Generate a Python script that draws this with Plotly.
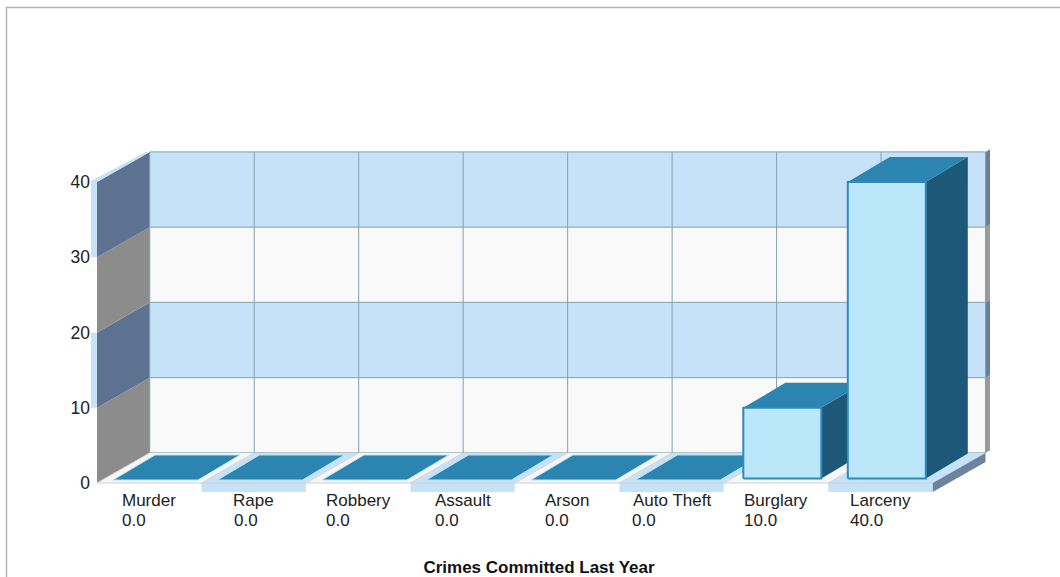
import plotly.graph_objects as go

categories = ["Murder", "Rape", "Robbery", "Assault", "Arson", "Auto Theft", "Burglary", "Larceny"]
crimes = [0, 0, 0, 0, 0, 0, 10, 40]
y_ticks = [0, 10, 20, 30, 40]
label_widths = [56, 41, 66, 58, 46, 81, 67, 63]

W, H = 1060, 577
PX_X = 104.47      # pixels per category
PX_Y = 7.525       # pixels per unit
X0_PX, Y0_PX = 97, 483
LEFT, RIGHT, TOP, BOTTOM = 91, 990, 148.9, 492.03

DX, DY = 0.505, 4.0        # wall depth (data units)
BX, BY = 42 / PX_X, 25 / PX_Y  # bar depth
INSET, BW = 19.5 / PX_X, 78 / PX_X
BASE, FLAT_BASE, FLAT_PAD = 0.6, 0.4, 3.5 / PX_X
STRIP = 8 / PX_X
FLOOR_T = 1.2

BLUE, WHITE = "#c5e2f8", "#f9f9f9"
SIDE_BLUE, SIDE_GREY = "#5d7291", "#8c8c8c"
GRID = "#80a2ae"
TOPC, FRONT, SIDE, STROKE = "#2c84b0", "#bbe7fa", "#1e5878", "#2f8ab8"
TEXT = "#222222"
FONT = "Liberation Sans"

fig = go.Figure()


def poly(xs, ys, fill, line=None, width=1):
    fig.add_trace(go.Scatter(
        x=list(xs) + [xs[0]], y=list(ys) + [ys[0]], mode="lines", fill="toself",
        fillcolor=fill, line=dict(color=line or fill, width=width if line else 0),
        hoverinfo="skip", showlegend=False, cliponaxis=False))


def seg(xs, ys, color, width=1):
    fig.add_trace(go.Scatter(x=xs, y=ys, mode="lines", line=dict(color=color, width=width),
                             hoverinfo="skip", showlegend=False, cliponaxis=False))


n = len(categories)
xl, xr = -0.5, n - 0.5

# walls
for k in range(len(y_ticks) - 1):
    a, b = y_ticks[k], y_ticks[k + 1]
    blue = k % 2 == 1
    poly([xl + DX, xr + DX, xr + DX, xl + DX], [a + DY, a + DY, b + DY, b + DY], BLUE if blue else WHITE)
    poly([xl, xl + DX, xl + DX, xl], [a, a + DY, b + DY, b], SIDE_BLUE if blue else SIDE_GREY)
    poly([xl - STRIP, xl, xl, xl - STRIP], [a, a, b, b], BLUE if blue else "#ffffff")
    if k == len(y_ticks) - 2:
        poly([xl - STRIP, xl, xl + DX, xl + DX - STRIP / 2], [b, b, b + DY, b + DY], BLUE)
    sx = 5 / PX_X
    poly([xr + DX, xr + DX + sx, xr + DX + sx, xr + DX], [a + DY, a + DY + 0.4, b + DY + 0.4, b + DY],
         "#6a7fa0" if blue else "#9a9a9a")

# wall grid
for t in y_ticks:
    seg([xl + DX, xr + DX], [t + DY, t + DY], GRID)
for i in range(n + 1):
    seg([xl + i + DX, xl + i + DX], [DY, y_ticks[-1] + DY], GRID)

# floor
for i in range(n):
    c = BLUE if i % 2 == 1 else "#f6f6f6"
    poly([xl + i, xl + i + 1, xl + i + 1 + DX, xl + i + DX], [0, 0, DY, DY], c)
    poly([xl + i, xl + i + 1, xl + i + 1, xl + i], [-FLOOR_T, -FLOOR_T, 0, 0], BLUE if i % 2 == 1 else "#ffffff")
    seg([xl + i, xl + i + DX], [0, DY], "#d4d4d4", 1)
poly([xr, xr + DX, xr + DX, xr], [-FLOOR_T, DY - FLOOR_T, DY, 0], "#6f83a0")
seg([xl, xr], [0, 0], "#d0d0d0", 1)

# bars, left to right so that later ones cover earlier sides
for i, v in enumerate(crimes):
    a = xl + i + INSET
    b = a + BW
    if v == 0:
        a -= FLAT_PAD
        b += FLAT_PAD
        poly([a, b, b + BX, a + BX], [FLAT_BASE, FLAT_BASE, FLAT_BASE + BY, FLAT_BASE + BY],
             TOPC, "#bde4f8", 1)
        continue
    poly([b, b + BX, b + BX, b], [BASE, BASE + BY, v + BY, v], SIDE)
    poly([a, b, b + BX, a + BX], [v, v, v + BY, v + BY], TOPC)
    poly([a, b, b, a], [BASE, BASE, v, v], FRONT, STROKE, 2)

# category labels: name centred on its slot, value flush with the name's left edge
for i, (c, v, w) in enumerate(zip(categories, crimes, label_widths)):
    fig.add_annotation(x=i, y=(H - 500) / H, xref="x", yref="paper", yanchor="middle", xanchor="center",
                       text=c, showarrow=False, font=dict(family=FONT, size=17, color=TEXT))
    fig.add_annotation(x=i - w / 2 / PX_X, y=(H - 520) / H, xref="x", yref="paper", yanchor="middle",
                       xanchor="left", xshift=-1, text=f"{float(v):.1f}", showarrow=False,
                       font=dict(family=FONT, size=17, color=TEXT))

# frame
fig.add_shape(type="path", xref="paper", yref="paper", layer="above",
              path=f"M {6.5/W} 0 L {6.5/W} {(H-7.5)/H} L 1 {(H-7.5)/H}",
              line=dict(color="#b4b4b4", width=1.5))

fig.update_layout(
    width=W, height=H, margin=dict(l=0, r=0, t=0, b=0),
    paper_bgcolor="white", plot_bgcolor="rgba(0,0,0,0)", showlegend=False,
    title=dict(text="<b>Crimes Committed Last Year</b>", x=539 / W, xanchor="center",
               y=(H - 567.5) / H, yanchor="middle",
               font=dict(family=FONT, size=17, color="#111111")),
    xaxis=dict(domain=[LEFT / W, RIGHT / W], visible=False,
               range=[xl + (LEFT - X0_PX) / PX_X, xl + (RIGHT - X0_PX) / PX_X], fixedrange=True),
    yaxis=dict(domain=[(H - BOTTOM) / H, (H - TOP) / H],
               range=[(Y0_PX - BOTTOM) / PX_Y, (Y0_PX - TOP) / PX_Y],
               tickmode="array", tickvals=y_ticks, ticktext=[str(t) for t in y_ticks],
               showgrid=False, zeroline=False, showline=False, ticks="", fixedrange=True,
               tickfont=dict(family=FONT, size=17.5, color=TEXT)),
)
fig.write_html("out.html", config={"displayModeBar": False},
               post_script="document.body.style.margin='0';document.body.style.overflow='hidden';")
